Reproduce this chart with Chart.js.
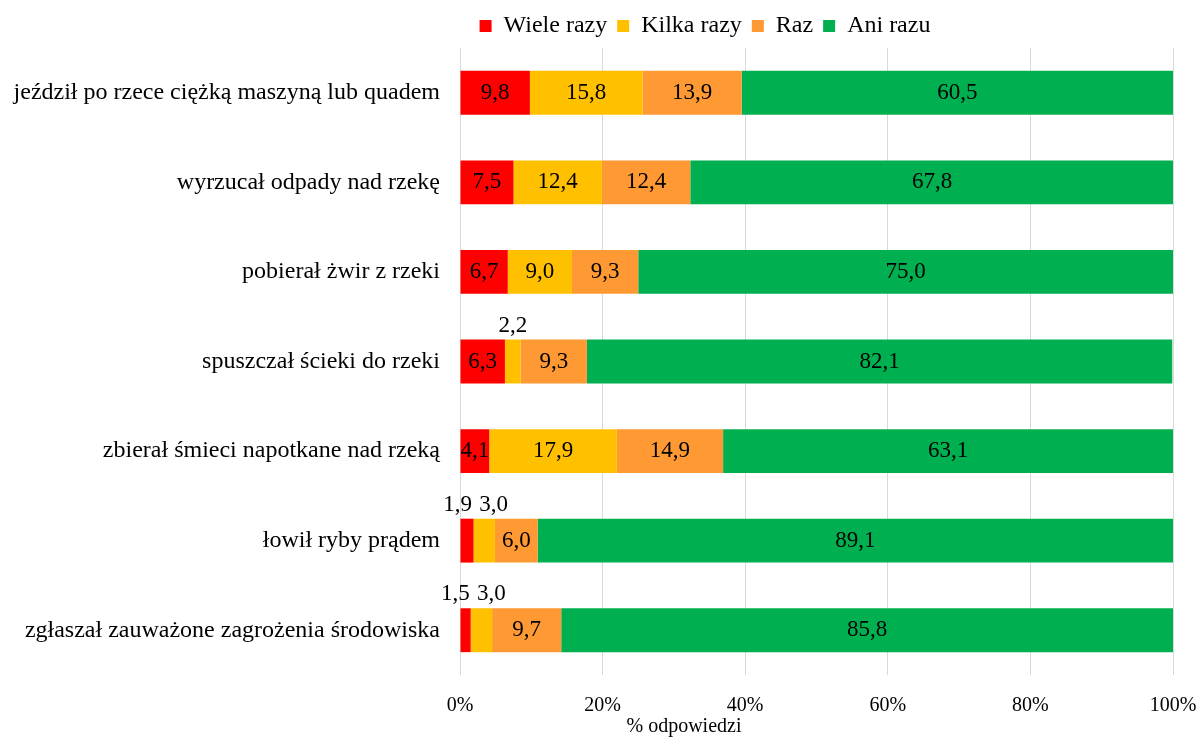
<!DOCTYPE html>
<html>
<head>
<meta charset="utf-8">
<script src="https://cdn.jsdelivr.net/npm/chart.js@4.4.1/dist/chart.umd.min.js"></script>
<style>
  html, body { margin: 0; padding: 0; background: #fff; }
  #wrap { width: 1202px; height: 738px; }
</style>
</head>
<body>
<div id="wrap"><canvas id="chart"></canvas></div>
<script>
// data
const categories = [
  'jeździł po rzece ciężką maszyną lub quadem',
  'wyrzucał odpady nad rzekę',
  'pobierał żwir z rzeki',
  'spuszczał ścieki do rzeki',
  'zbierał śmieci napotkane nad rzeką',
  'łowił ryby prądem',
  'zgłaszał zauważone zagrożenia środowiska'
];
const seriesNames = ['Wiele razy', 'Kilka razy', 'Raz', 'Ani razu'];
const wieleRazy = [9.8, 7.5, 6.7, 6.3, 4.1, 1.9, 1.5];
const kilkaRazy = [15.8, 12.4, 9.0, 2.2, 17.9, 3.0, 3.0];
const raz       = [13.9, 12.4, 9.3, 9.3, 14.9, 6.0, 9.7];
const aniRazu   = [60.5, 67.8, 75.0, 82.1, 63.1, 89.1, 85.8];
const xTicks = [0, 20, 40, 60, 80, 100];
const axisTitle = '% odpowiedzi';

const colors = ['#FF0000', '#FFC000', '#FF9933', '#00B050'];
const FONT = '"Liberation Serif", "Times New Roman", serif';
Chart.defaults.font.family = FONT;
Chart.defaults.color = '#000';

const fmtNum = v => v.toFixed(1).replace('.', ',');

// move the legend so it sits where Excel put it
const legendShift = {
  id: 'legendShift',
  afterLayout(chart) {
    const lg = chart.legend;
    if (!lg) return;
    const d = 705 - (lg.left + lg.right) / 2;
    lg.left += d;
    lg.right += d;
  }
};

// value labels: inside the segment, or above the bar for tiny ones
const barLabels = {
  id: 'barLabels',
  afterDatasetsDraw(chart) {
    const ctx = chart.ctx;
    ctx.save();
    ctx.font = '23px ' + FONT;
    ctx.fillStyle = '#000';
    ctx.textAlign = 'center';
    ctx.textBaseline = 'middle';
    const outside = {};
    chart.data.datasets.forEach((ds, i) => {
      chart.getDatasetMeta(i).data.forEach((bar, j) => {
        const v = ds.data[j];
        const cx = (bar.x + bar.base) / 2;
        if (v < 4) {
          (outside[j] = outside[j] || []).push({ cx, y: bar.y - bar.height / 2 - 14, txt: fmtNum(v) });
        } else {
          ctx.fillText(fmtNum(v), cx, bar.y);
        }
      });
    });
    Object.values(outside).forEach(list => {
      const gap = 36;
      for (let k = 1; k < list.length; k++) {
        const a = list[k - 1], b = list[k];
        if (b.cx - a.cx < gap) {
          const mid = (a.cx + b.cx) / 2;
          a.cx = mid - gap / 2;
          b.cx = mid + gap / 2;
        }
      }
      list.forEach(l => ctx.fillText(l.txt, l.cx, l.y));
    });
    ctx.restore();
  }
};

const xTitle = {
  id: 'xTitle',
  afterDraw(chart) {
    const ctx = chart.ctx;
    ctx.save();
    ctx.font = '20px ' + FONT;
    ctx.fillStyle = '#000';
    ctx.textAlign = 'center';
    ctx.textBaseline = 'middle';
    ctx.fillText(axisTitle, 684, 727);
    ctx.restore();
  }
};

new Chart(document.getElementById('chart'), {
  type: 'bar',
  data: {
    labels: categories,
    datasets: [wieleRazy, kilkaRazy, raz, aniRazu].map((d, i) => ({
      label: seriesNames[i],
      data: d,
      backgroundColor: colors[i],
      borderWidth: 0,
      barPercentage: 0.98,
      categoryPercentage: 0.5
    }))
  },
  options: {
    indexAxis: 'y',
    responsive: true,
    maintainAspectRatio: false,
    animation: false,
    layout: { padding: { top: 4, right: 29, bottom: 0, left: 0 } },
    plugins: {
      legend: {
        position: 'top',
        labels: { boxWidth: 12, boxHeight: 12, padding: 10, color: '#000', font: { size: 24 } }
      },
      tooltip: { enabled: false }
    },
    scales: {
      x: {
        stacked: true,
        min: 0,
        max: 100,
        afterBuildTicks: s => { s.ticks = xTicks.map(v => ({ value: v })); },
        afterFit: s => { s.height = 63; s.paddingLeft = 0; s.paddingRight = 0; },
        grid: { color: '#D9D9D9', lineWidth: 1, drawTicks: false },
        border: { display: false },
        ticks: { padding: 19, color: '#000', font: { size: 20 }, callback: v => v + '%' }
      },
      y: {
        stacked: true,
        afterFit: s => { s.width = 460; },
        grid: { display: false, drawTicks: false },
        border: { display: false },
        ticks: { padding: 20, color: '#000', font: { size: 24 } }
      }
    }
  },
  plugins: [legendShift, barLabels, xTitle]
});
</script>
</body>
</html>
